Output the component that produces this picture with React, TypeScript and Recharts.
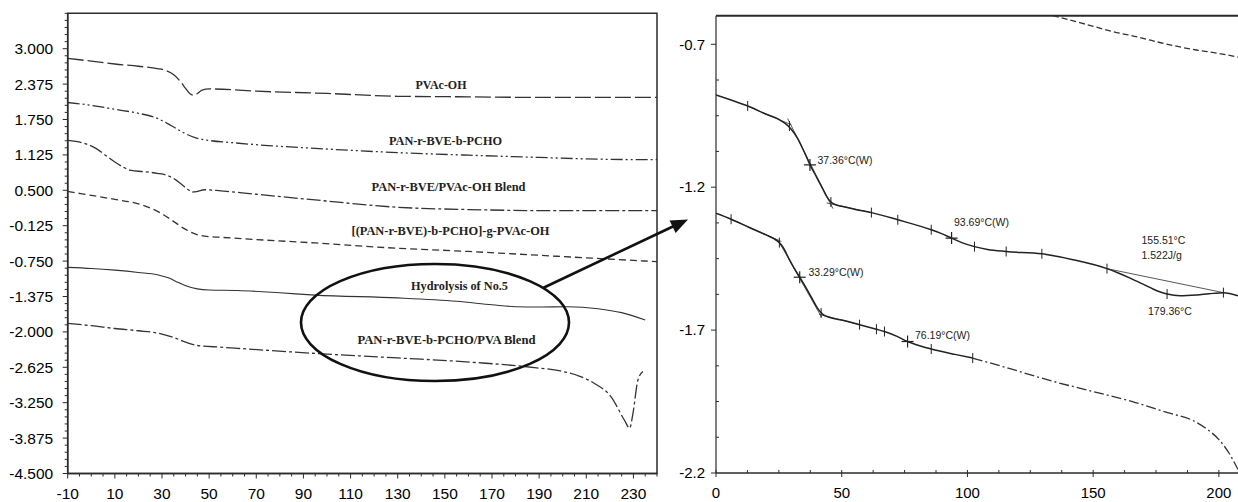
import React from 'react';
import { ComposedChart, Line, XAxis, YAxis, ReferenceArea, ReferenceLine } from 'recharts';

// ---------- Left panel: DSC curves (Temperature °C vs heat flow) ----------
const pvacOhT = [-10, 0, 10, 20, 28, 32, 35, 38, 40, 42, 43.5, 45, 47, 50, 70, 100, 130, 160, 190, 220, 240];
const pvacOhV = [2.83, 2.78, 2.73, 2.69, 2.65, 2.61, 2.54, 2.41, 2.3, 2.2, 2.18, 2.21, 2.27, 2.29, 2.25, 2.21, 2.16, 2.15, 2.14, 2.14, 2.14];

const pchoT = [-10, 0, 10, 20, 28, 34, 39, 44, 50, 60, 75, 95, 130, 160, 190, 215, 240];
const pchoV = [2.05, 2.0, 1.93, 1.86, 1.77, 1.64, 1.52, 1.43, 1.38, 1.34, 1.29, 1.24, 1.165, 1.12, 1.08, 1.05, 1.04];

const blendT = [-10, -3, 2, 6, 10, 14, 17, 22, 28, 33, 36, 39, 41.5, 43, 45, 48, 55, 70, 95, 130, 160, 200, 240];
const blendV = [1.38, 1.33, 1.24, 1.12, 1.0, 0.9, 0.85, 0.83, 0.8, 0.75, 0.68, 0.58, 0.5, 0.47, 0.48, 0.51, 0.49, 0.43, 0.33, 0.2, 0.16, 0.14, 0.14];

const graftT = [-10, 0, 10, 20, 26, 31, 36, 40, 44, 48, 55, 70, 95, 120, 160, 200, 240];
const graftV = [0.48, 0.41, 0.34, 0.26, 0.17, 0.06, -0.08, -0.19, -0.27, -0.31, -0.33, -0.37, -0.43, -0.5, -0.58, -0.67, -0.76];

const hydroT = [-10, 0, 10, 20, 28, 33, 37, 41, 45, 50, 62, 80, 95, 130, 155, 170, 180, 190, 202, 215, 225, 235];
const hydroV = [-0.86, -0.88, -0.91, -0.95, -0.99, -1.05, -1.13, -1.2, -1.24, -1.26, -1.27, -1.31, -1.35, -1.4, -1.46, -1.52, -1.555, -1.56, -1.555, -1.59, -1.66, -1.79];

const pvaBlendT = [-10, 0, 10, 20, 28, 35, 40, 45, 55, 62, 95, 130, 163, 188, 199, 207, 213.5, 220.6, 226.2, 228.4, 229.8, 231.9, 234];
const pvaBlendV = [-1.85, -1.89, -1.94, -1.98, -2.02, -2.1, -2.18, -2.24, -2.27, -2.29, -2.38, -2.46, -2.54, -2.63, -2.69, -2.78, -2.91, -3.15, -3.56, -3.7, -3.44, -2.85, -2.7];

const leftLabels = [
  'PVAc-OH',
  'PAN-r-BVE-b-PCHO',
  'PAN-r-BVE/PVAc-OH Blend',
  '[(PAN-r-BVE)-b-PCHO]-g-PVAc-OH',
  'Hydrolysis of No.5',
  'PAN-r-BVE-b-PCHO/PVA Blend',
];

const leftXLabels = [-10, 10, 30, 50, 70, 90, 110, 130, 150, 170, 190, 210, 230];
const leftYLabels = [3.0, 2.375, 1.75, 1.125, 0.5, -0.125, -0.75, -1.375, -2.0, -2.625, -3.25, -3.875, -4.5];

// ---------- Right panel: zoomed curves ----------
const upperT = [0, 6, 12.6, 20, 25, 27.5, 30, 32.5, 35, 37.4, 40, 42.4, 44, 45.7, 47.5, 50, 55, 61.8, 72.3, 85.6, 89, 93.7, 98, 102.8, 108, 115.4, 129.6, 142, 155.5, 160, 164.7, 170, 174, 179.4, 184.6, 191.2, 196, 201.8, 207.6];
const upperV = [-0.877, -0.895, -0.916, -0.945, -0.963, -0.977, -0.998, -1.03, -1.075, -1.122, -1.165, -1.205, -1.232, -1.252, -1.261, -1.267, -1.277, -1.289, -1.314, -1.349, -1.36, -1.378, -1.395, -1.408, -1.418, -1.425, -1.433, -1.454, -1.485, -1.5, -1.518, -1.54, -1.557, -1.574, -1.58, -1.577, -1.573, -1.569, -1.58];

const lowerSolidT = [0, 6, 13, 19.9, 23, 25.2, 27, 29, 31, 33.3, 36, 38.5, 40.5, 42.5, 45, 50, 57.1, 63.8, 67, 72, 76.2, 80, 85.6, 95, 102.1];
const lowerSolidV = [-1.291, -1.312, -1.34, -1.367, -1.38, -1.394, -1.415, -1.45, -1.482, -1.515, -1.555, -1.594, -1.625, -1.645, -1.655, -1.665, -1.681, -1.697, -1.705, -1.722, -1.74, -1.752, -1.766, -1.785, -1.798];

const lowerDashT = [102.1, 115, 134.3, 150, 165.6, 180, 189.1, 195, 200, 204, 207.6];
const lowerDashV = [-1.798, -1.83, -1.88, -1.915, -1.95, -1.99, -2.014, -2.045, -2.083, -2.13, -2.188];

const topDashT = [134, 145, 158, 168, 178, 191, 200, 207.6];
const topDashV = [-0.6, -0.625, -0.656, -0.675, -0.697, -0.72, -0.732, -0.745];

// tangent / baseline construction lines [t1, v1, t2, v2]
const constructionLines = [
  [12.6, -0.916, 30, -0.982],
  [28.5, -0.96, 46.5, -1.275],
  [44, -1.255, 61.8, -1.289],
  [6, -1.312, 26, -1.39],
  [25, -1.39, 42, -1.655],
  [41, -1.645, 57.1, -1.681],
  [155.5, -1.485, 201.8, -1.569],
];

// analysis marks: vertical ticks and crosses
const upperTickT = [12.6, 29.2, 45.7, 61.8, 72.3, 85.6, 102.8, 115.4, 129.6, 155.5, 179.4, 201.8];
const upperTickV = [-0.916, -0.986, -1.252, -1.289, -1.314, -1.349, -1.408, -1.425, -1.433, -1.485, -1.574, -1.569];
const upperCrossT = [37.36, 93.69];
const upperCrossV = [-1.122, -1.378];
const lowerTickT = [6, 25.2, 41.8, 57.1, 63.8, 67, 85.6, 102.1];
const lowerTickV = [-1.312, -1.394, -1.64, -1.681, -1.697, -1.705, -1.766, -1.798];
const lowerCrossT = [33.29, 76.19];
const lowerCrossV = [-1.515, -1.74];

const rightAnnotations = ['37.36°C(W)', '93.69°C(W)', '33.29°C(W)', '76.19°C(W)', '155.51°C', '1.522J/g', '179.36°C'];

const rightXLabels = [0, 50, 100, 150, 200];
const rightYLabels = [-0.7, -1.2, -1.7, -2.2];

// ---------- helpers ----------
const zip = (t: number[], v: number[]) => t.map((x, i) => ({ t: x, v: v[i] }));
const range = (a: number, b: number, s: number) => {
  const out: number[] = [];
  for (let i = 0; a + i * s <= b + 1e-9; i++) out.push(+(a + i * s).toFixed(4));
  return out;
};
const has = (arr: number[], v: number) => arr.some((a) => Math.abs(a - v) < 1e-6);

const INK = '#2b2b2b';
const SANS = '"Liberation Sans", Arial, sans-serif';
const SERIF = '"Liberation Serif", "Times New Roman", serif';

const LeftXTick = (p: any) => {
  const v = p.payload.value;
  const major = has(leftXLabels, v);
  return (
    <g>
      <line x1={p.x} x2={p.x} y1={p.y} y2={p.y + (major ? 5 : 3)} stroke={INK} strokeWidth={1} />
      {major && (
        <text x={p.x} y={p.y + 20} dy="0.35em" textAnchor="middle" fontSize={15.5} fontFamily={SANS} fill="#000">
          {v}
        </text>
      )}
    </g>
  );
};
const LeftYTick = (p: any) => {
  const v = p.payload.value;
  const major = has(leftYLabels, v);
  return (
    <g>
      <line x1={p.x} x2={p.x - (major ? 5 : 3)} y1={p.y} y2={p.y} stroke={INK} strokeWidth={1} />
      {major && (
        <text x={p.x - 14.5} y={p.y} dy="0.35em" textAnchor="end" fontSize={15.5} fontFamily={SANS} fill="#000">
          {v.toFixed(3)}
        </text>
      )}
    </g>
  );
};
const RightXTick = (p: any) => {
  const v = p.payload.value;
  const major = has(rightXLabels, v);
  return (
    <g>
      {major ? (
        <line x1={p.x} x2={p.x} y1={p.y - 3} y2={p.y + 4} stroke={INK} strokeWidth={1} />
      ) : (
        <line x1={p.x} x2={p.x} y1={p.y} y2={p.y - 3} stroke={INK} strokeWidth={1} />
      )}
      {major && (
        <text x={p.x} y={p.y + 20} dy="0.35em" textAnchor="middle" fontSize={15} fontFamily={SANS} fill="#000">
          {v}
        </text>
      )}
    </g>
  );
};
const RightYTick = (p: any) => {
  const v = p.payload.value;
  const major = has(rightYLabels, v);
  return (
    <g>
      {major ? (
        <line x1={p.x} x2={p.x - 5} y1={p.y} y2={p.y} stroke={INK} strokeWidth={1} />
      ) : (
        <line x1={p.x} x2={p.x + 3} y1={p.y} y2={p.y} stroke={INK} strokeWidth={1} />
      )}
      {major && (
        <text x={p.x - 11} y={p.y} dy="0.35em" textAnchor="end" fontSize={15} fontFamily={SANS} fill="#000">
          {v.toFixed(1)}
        </text>
      )}
    </g>
  );
};

const TickMark = (p: any) => {
  if (p.cx == null || p.cy == null) return <g key={p.key} />;
  return (
    <g key={p.key}>
      <line x1={p.cx} x2={p.cx} y1={p.cy - 5} y2={p.cy + 5} stroke="#222" strokeWidth={1} />
    </g>
  );
};
const CrossMark = (p: any) => {
  if (p.cx == null || p.cy == null) return <g key={p.key} />;
  return (
    <g key={p.key}>
      <line x1={p.cx} x2={p.cx} y1={p.cy - 6} y2={p.cy + 6} stroke="#222" strokeWidth={1.2} />
      <line x1={p.cx - 6} x2={p.cx + 6} y1={p.cy} y2={p.cy} stroke="#222" strokeWidth={1.2} />
    </g>
  );
};

const leftSeries = [
  { t: pvacOhT, v: pvacOhV, dash: '16 4', w: 1.3 },
  { t: pchoT, v: pchoV, dash: '12 3 2 3 2 3', w: 1.3 },
  { t: blendT, v: blendV, dash: '14 3 3 3', w: 1.3 },
  { t: graftT, v: graftV, dash: '7 4', w: 1.3 },
  { t: hydroT, v: hydroV, dash: undefined, w: 1.1 },
  { t: pvaBlendT, v: pvaBlendV, dash: '14 3 3 3', w: 1.3 },
];

// label placement (pixel layout of the annotations)
const leftLabelPos = [
  { x: 441, y: 84.5, w: 51 },
  { x: 445.5, y: 140, w: 113 },
  { x: 448.5, y: 186.5, w: 154 },
  { x: 450.5, y: 230.5, w: 198 },
  { x: 459.5, y: 285, w: 97 },
  { x: 446.5, y: 339, w: 178 },
];
const rightAnnoPos = [
  { x: 817.5, y: 160 },
  { x: 954, y: 222.7 },
  { x: 808.5, y: 272.7 },
  { x: 915, y: 335 },
  { x: 1141.5, y: 240 },
  { x: 1141.5, y: 255 },
  { x: 1148, y: 311.7 },
];

export default function App() {
  const leftXTicks = range(-10, 240, 5);
  const leftYTicks = range(-4.5, 3.625, 0.125);
  const rightXTicks = range(0, 200, 12.5);
  const rightYTicks = range(-2.2, -0.7, 0.125);

  return (
    <div style={{ position: 'absolute', left: 0, top: 0, width: 1238, height: 502, background: '#fff', overflow: 'hidden' }}>
      {/* left panel */}
      <div style={{ position: 'absolute', left: 0, top: 0 }}>
        <ComposedChart width={680} height={502} margin={{ top: 13.3, right: 23, bottom: 0, left: 0 }}>
          <XAxis
            dataKey="t"
            type="number"
            domain={[-10, 240]}
            allowDataOverflow
            ticks={leftXTicks}
            interval={0}
            height={28.5}
            tickSize={0}
            tickMargin={0}
            tickLine={false}
            axisLine={{ stroke: INK, strokeWidth: 1.5 }}
            tick={<LeftXTick />}
          />
          <YAxis
            type="number"
            domain={[-4.5, 3.625]}
            allowDataOverflow
            ticks={leftYTicks}
            interval={0}
            width={67.7}
            tickSize={0}
            tickMargin={0}
            tickLine={false}
            axisLine={{ stroke: INK, strokeWidth: 1.5 }}
            tick={<LeftYTick />}
          />
          <ReferenceArea x1={-10} x2={240} y1={-4.5} y2={3.625} fill="none" fillOpacity={0} stroke={INK} strokeWidth={1.5} />
          {leftSeries.map((s, i) => (
            <Line
              key={i}
              data={zip(s.t, s.v)}
              dataKey="v"
              type="monotone"
              stroke="#333"
              strokeWidth={s.w}
              strokeDasharray={s.dash}
              dot={false}
              activeDot={false}
              isAnimationActive={false}
            />
          ))}
        </ComposedChart>
      </div>

      {/* right panel */}
      <div style={{ position: 'absolute', left: 620, top: 0 }}>
        <ComposedChart width={618} height={502} margin={{ top: 15.7, right: 0, bottom: 0, left: 0 }}>
          <XAxis
            dataKey="t"
            type="number"
            domain={[0, 207.6]}
            allowDataOverflow
            ticks={rightXTicks}
            interval={0}
            height={29}
            tickSize={0}
            tickMargin={0}
            tickLine={false}
            axisLine={{ stroke: INK, strokeWidth: 1.4 }}
            tick={<RightXTick />}
          />
          <YAxis
            type="number"
            domain={[-2.2, -0.6]}
            allowDataOverflow
            ticks={rightYTicks}
            interval={0}
            width={96}
            tickSize={0}
            tickMargin={0}
            tickLine={false}
            axisLine={{ stroke: INK, strokeWidth: 1.2 }}
            tick={<RightYTick />}
          />
          <ReferenceLine y={-0.6} stroke={INK} strokeWidth={2} />
          <Line data={zip(topDashT, topDashV)} dataKey="v" type="monotone" stroke="#333" strokeWidth={1.3} strokeDasharray="6 3" dot={false} activeDot={false} isAnimationActive={false} />
          {constructionLines.map((c, i) => (
            <Line
              key={'c' + i}
              data={[{ t: c[0], v: c[1] }, { t: c[2], v: c[3] }]}
              dataKey="v"
              type="linear"
              stroke="#444"
              strokeWidth={0.9}
              dot={false}
              activeDot={false}
              isAnimationActive={false}
            />
          ))}
          <Line data={zip(upperT, upperV)} dataKey="v" type="monotone" stroke="#222" strokeWidth={1.5} dot={false} activeDot={false} isAnimationActive={false} />
          <Line data={zip(lowerSolidT, lowerSolidV)} dataKey="v" type="monotone" stroke="#222" strokeWidth={1.5} dot={false} activeDot={false} isAnimationActive={false} />
          <Line data={zip(lowerDashT, lowerDashV)} dataKey="v" type="monotone" stroke="#333" strokeWidth={1.3} strokeDasharray="10 3 2 3" dot={false} activeDot={false} isAnimationActive={false} />
          <Line data={zip(upperTickT, upperTickV)} dataKey="v" stroke="none" dot={<TickMark />} activeDot={false} isAnimationActive={false} />
          <Line data={zip(lowerTickT, lowerTickV)} dataKey="v" stroke="none" dot={<TickMark />} activeDot={false} isAnimationActive={false} />
          <Line data={zip(upperCrossT, upperCrossV)} dataKey="v" stroke="none" dot={<CrossMark />} activeDot={false} isAnimationActive={false} />
          <Line data={zip(lowerCrossT, lowerCrossV)} dataKey="v" stroke="none" dot={<CrossMark />} activeDot={false} isAnimationActive={false} />
        </ComposedChart>
      </div>

      {/* annotations: labels, ellipse and arrow */}
      <svg width={1238} height={502} style={{ position: 'absolute', left: 0, top: 0, pointerEvents: 'none' }}>
        {leftLabels.map((s, i) => (
          <text
            key={s}
            x={leftLabelPos[i].x}
            y={leftLabelPos[i].y}
            dy="0.35em"
            textAnchor="middle"
            fontFamily={SERIF}
            fontWeight="bold"
            fontSize={13.5}
            textLength={leftLabelPos[i].w}
            lengthAdjust="spacingAndGlyphs"
            fill="#222"
          >
            {s}
          </text>
        ))}
        {rightAnnotations.map((s, i) => (
          <text key={s} x={rightAnnoPos[i].x} y={rightAnnoPos[i].y} dy="0.35em" fontFamily={SANS} fontSize={10.5} fill="#222">
            {s}
          </text>
        ))}
        <ellipse cx={435} cy={322.5} rx={134} ry={58.5} fill="none" stroke="#111" strokeWidth={2.6} />
        <line x1={543.5} y1={287.7} x2={674} y2={226} stroke="#111" strokeWidth={2.6} />
        <polygon points="688,219.5 675.6,233.1 669.6,220.5" fill="#111" />
      </svg>
    </div>
  );
}
